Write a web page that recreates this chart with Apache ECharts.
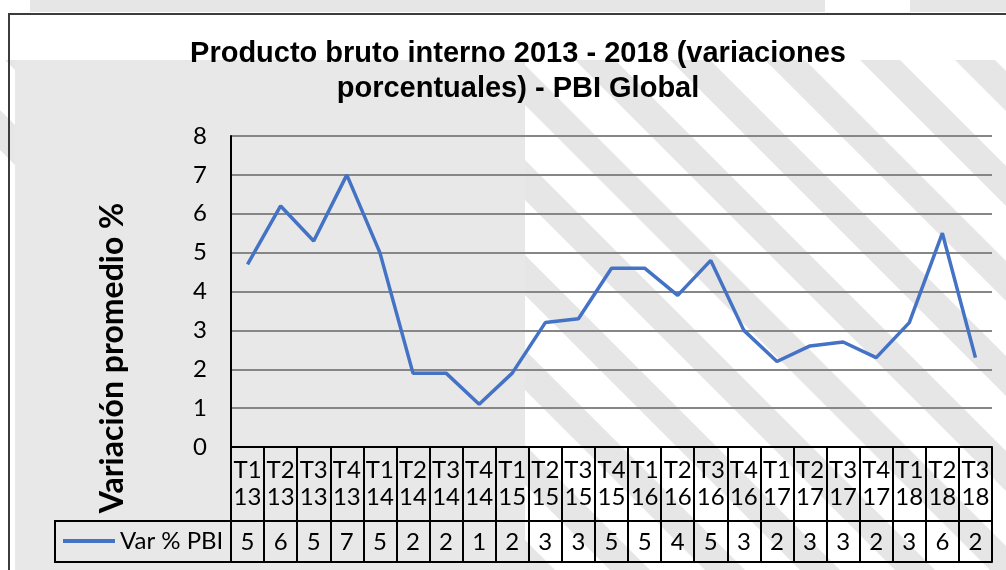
<!DOCTYPE html>
<html>
<head>
<meta charset="utf-8">
<script src="https://cdn.jsdelivr.net/npm/echarts@6/dist/echarts.min.js"></script>
<style>
  html, body { margin: 0; padding: 0; background: #fff; }
  #chart { width: 1006px; height: 570px; }
</style>
</head>
<body>
<div id="chart"></div>
<script>
var trimestres = ["T1", "T2", "T3", "T4", "T1", "T2", "T3", "T4", "T1", "T2", "T3", "T4",
                  "T1", "T2", "T3", "T4", "T1", "T2", "T3", "T4", "T1", "T2", "T3"];
var anios = ["13", "13", "13", "13", "14", "14", "14", "14", "15", "15", "15", "15",
             "16", "16", "16", "16", "17", "17", "17", "17", "18", "18", "18"];
var varPBI = [4.7, 6.2, 5.3, 7.0, 5.0, 1.9, 1.9, 1.1, 1.9, 3.2, 3.3, 4.6,
              4.6, 3.9, 4.8, 3.0, 2.2, 2.6, 2.7, 2.3, 3.2, 5.5, 2.3];
var tablaPBI = [5, 6, 5, 7, 5, 2, 2, 1, 2, 3, 3, 5, 5, 4, 5, 3, 2, 3, 3, 2, 3, 6, 2];

var categorias = [];
for (var i = 0; i < trimestres.length; i++) {
  categorias.push(trimestres[i] + "\n" + anios[i]);
}

var chart = echarts.init(document.getElementById("chart"));

// marca de agua de fondo (franjas diagonales + bloque gris)
var fondo = [];
fondo.push({ type: "rect", z: -10, shape: { x: 30, y: 0, width: 795, height: 12 }, style: { fill: "#e6e6e6" } });
fondo.push({ type: "rect", z: -10, shape: { x: 910, y: 0, width: 96, height: 12 }, style: { fill: "#e6e6e6" } });
for (var k = 0; k < 16; k++) {
  var x0 = 420 + k * 95;
  fondo.push({
    type: "polygon", z: -10,
    shape: { points: [[x0, 570], [x0 + 40, 570], [x0 + 40 - 510, 60], [x0 - 510, 60]] },
    style: { fill: "#e6e6e6" }
  });
}
fondo.push({ type: "rect", z: -10, shape: { x: 15, y: 60, width: 510, height: 510 }, style: { fill: "#e8e8e8" } });
fondo.push({ type: "rect", z: -10, shape: { x: 15, y: 14, width: 1000, height: 46 }, style: { fill: "#fff" } });
fondo.push({ type: "rect", z: 5, shape: { x: 9, y: 14, width: 1010, height: 570 }, style: { fill: null, stroke: "#3c3c3c", lineWidth: 2 } });
fondo.push({ type: "rect", z: 5, shape: { x: 55, y: 521, width: 176, height: 41 }, style: { fill: null, stroke: "#000", lineWidth: 2 } });
// título del eje vertical, centrado sobre gráfico + tabla como en Excel
fondo.push({
  type: "text", z: 5, x: 113, y: 358, rotation: Math.PI / 2,
  style: {
    text: "Variación promedio %",
    fontFamily: "Lato", fontWeight: "bold", fontSize: 32,
    fill: "#000", align: "center", verticalAlign: "middle"
  }
});

chart.setOption({
  animation: false,
  backgroundColor: "#fff",
  textStyle: { fontFamily: "Lato" },
  title: {
    text: "Producto bruto interno 2013 - 2018 (variaciones\nporcentuales) - PBI Global",
    left: 513,
    top: 31,
    textAlign: "center",
    textStyle: {
      fontFamily: "Liberation Sans",
      fontWeight: "bold",
      fontSize: 29,
      lineHeight: 35,
      color: "#000"
    }
  },
  graphic: fondo,
  legend: {
    data: [{ name: "Var % PBI", icon: "rect" }],
    left: 63,
    top: 528,
    padding: 0,
    itemWidth: 52,
    itemHeight: 4,
    textStyle: { fontFamily: "Lato", fontSize: 24, lineHeight: 26, color: "#000" }
  },
  grid: { left: 231, right: 14, top: 136, bottom: 123 },
  xAxis: [
    {
      type: "category",
      data: categorias,
      position: "bottom",
      axisLine: { lineStyle: { color: "#000", width: 2 } },
      axisTick: { show: true, interval: 0, length: 115, lineStyle: { color: "#000", width: 2 } },
      axisLabel: { interval: 0, margin: 10, fontFamily: "Lato", fontSize: 24, lineHeight: 27, color: "#000" }
    },
    {
      type: "category",
      data: tablaPBI,
      position: "bottom",
      offset: 74,
      axisLine: { lineStyle: { color: "#000", width: 2 } },
      axisTick: { show: false },
      axisLabel: { interval: 0, margin: 9, fontFamily: "Lato", fontSize: 24, lineHeight: 24, color: "#000" }
    },
    {
      type: "category",
      data: tablaPBI,
      position: "bottom",
      offset: 115,
      axisLine: { lineStyle: { color: "#000", width: 2 } },
      axisTick: { show: false },
      axisLabel: { show: false }
    }
  ],
  yAxis: {
    type: "value",
    min: 0,
    max: 8,
    interval: 1,
    axisLine: { show: true, lineStyle: { color: "#000", width: 2 } },
    axisTick: { show: false },
    axisLabel: { margin: 24, fontFamily: "Lato", fontSize: 24, color: "#000" },
    splitLine: { lineStyle: { color: "#868686", width: 2 } }
  },
  series: [
    {
      name: "Var % PBI",
      type: "line",
      data: varPBI,
      symbol: "none",
      color: "#4472C4",
      lineStyle: { color: "#4472C4", width: 3.5 },
      z: 3
    }
  ]
});
</script>
</body>
</html>
